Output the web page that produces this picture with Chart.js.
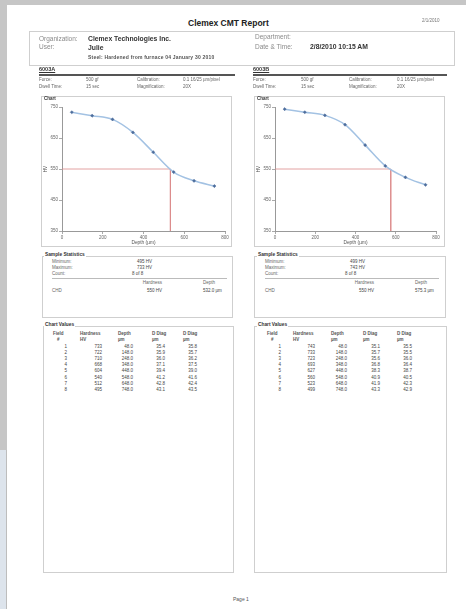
<!DOCTYPE html>
<html>
<head>
<meta charset="utf-8">
<script src="https://cdn.jsdelivr.net/npm/chart.js@4.4.0/dist/chart.umd.min.js"></script>
<style>
  html, body { margin: 0; padding: 0; background: #fff; }
  body { width: 466px; height: 609px; position: relative; overflow: hidden; font-family: "Liberation Sans", Arial, sans-serif; }
  .t { position: absolute; white-space: nowrap; line-height: 1; color: #666; }
  .b { font-weight: bold; color: #333; }
  .box { position: absolute; border: 1px solid #cfcfcf; box-sizing: border-box; }
  .rule { position: absolute; background: #666; }
  .frame { position: absolute; }
  .cv { position: absolute; width: 188px; height: 145px; }
</style>
</head>
<body>
<div class="frame" style="left:0;top:0;width:466px;height:5px;background:#c6c6c6"></div>
<div class="frame" style="left:0;top:0;width:7px;height:450px;background:#c6c6c6"></div>
<div class="frame" style="left:0;top:450px;width:6px;height:159px;background:#dde4ec"></div>
<div class="frame" style="left:6px;top:450px;width:1px;height:159px;background:#bdbdbd"></div>

<div class="box" style="left:29px;top:31px;width:426px;height:35px"></div>
<div class="box" style="left:41px;top:96px;width:191px;height:151px"></div>
<div class="box" style="left:254px;top:96px;width:191px;height:151px"></div>
<div class="box" style="left:42px;top:256px;width:191px;height:62px"></div>
<div class="box" style="left:254px;top:256px;width:192px;height:62px"></div>
<div class="box" style="left:43px;top:326px;width:191px;height:247px"></div>
<div class="box" style="left:254px;top:326px;width:193px;height:247px"></div>

<div class="cv" style="left:43px;top:101px"><canvas id="chartA"></canvas></div>
<div class="cv" style="left:256px;top:101px"><canvas id="chartB"></canvas></div>

<div id="texts"></div>

<script>
const depths = [48, 148, 248, 348, 448, 548, 648, 748];
const hardnessA = [733, 722, 710, 668, 604, 540, 512, 495];
const hardnessB = [743, 733, 723, 693, 627, 560, 523, 499];
const diag1A = [35.4, 35.9, 36.0, 37.1, 39.4, 41.2, 42.8, 43.1];
const diag2A = [35.8, 35.7, 36.2, 37.5, 39.0, 41.6, 42.4, 43.5];
const diag1B = [35.1, 35.7, 35.6, 36.8, 38.3, 40.9, 41.9, 43.3];
const diag2B = [35.5, 35.5, 36.0, 36.4, 38.7, 40.5, 42.3, 42.9];
const chdHardness = 550;
const chdDepthA = 532.0;
const chdDepthB = 575.3;
const xTicks = [0, 200, 400, 600, 800];
const yTicks = [350, 450, 550, 650, 750];

const texts = document.getElementById('texts');

function txt(s, x, yc, size, opts) {
  opts = opts || {};
  const d = document.createElement('div');
  d.className = 't' + (opts.bold ? ' b' : '');
  d.textContent = s;
  d.style.fontSize = size + 'px';
  d.style.top = (yc - size * 0.55) + 'px';
  if (opts.right) {
    d.style.right = (466 - x) + 'px';
  } else {
    d.style.left = x + 'px';
  }
  if (opts.color) d.style.color = opts.color;
  if (opts.bg) { d.style.background = '#fff'; d.style.padding = '0 1px'; }
  if (opts.underline) d.style.textDecoration = 'underline';
  if (opts.ls) d.style.letterSpacing = opts.ls + 'px';
  texts.appendChild(d);
}

function rule(x, y, w, h, c) {
  const d = document.createElement('div');
  d.className = 'rule';
  d.style.left = x + 'px'; d.style.top = y + 'px';
  d.style.width = w + 'px'; d.style.height = h + 'px';
  if (c) d.style.background = c;
  texts.appendChild(d);
}

// header
txt('Clemex CMT Report', 188, 24, 8.5, { bold: true, color: '#222' });
txt('2/1/2010', 422, 21, 4.5, { color: '#777' });
txt('Organization:', 39, 39.5, 6.5, { color: '#8a8a8a' });
txt('Clemex Technologies Inc.', 88, 39.5, 6.8, { bold: true });
txt('User:', 39, 48, 6.5, { color: '#8a8a8a' });
txt('Julie', 88, 48.5, 6.8, { bold: true });
txt('Steel: Hardened from furnace 04  January 30 2010', 88, 58, 5, { bold: true, color: '#555', ls: 0.2 });
txt('Department:', 255, 38, 6.5, { color: '#8a8a8a' });
txt('Date & Time:', 255, 47.5, 6.5, { color: '#8a8a8a' });
txt('2/8/2010 10:15 AM', 310, 47.5, 6.8, { bold: true });

function section(name, x0, ruleW, cols) {
  txt(name, x0, 70.5, 5.5, { bold: true, underline: true });
  rule(x0, 74, ruleW, 1.5, '#555');
  txt('Force:', x0, 80, 4.5); txt('500 gf', cols[0], 80, 4.5);
  txt('Calibration:', cols[1], 80, 4.5); txt('0.1 16/25 µm/pixel', cols[2], 80, 4.5);
  txt('Dwell Time:', x0, 87, 4.5); txt('15 sec', cols[0], 87, 4.5);
  txt('Magnification:', cols[1], 87, 4.5); txt('20X', cols[2], 87, 4.5);
}

function panels(bx, sx, st, tb, hard, d1, d2, chdDepth) {
  txt('Chart', bx + 3, 99.5, 4.5, { bold: true });
  // statistics
  txt('Sample Statistics', bx + 3, 255.5, 4.8, { bold: true, bg: true });
  txt('Minimum:', sx, 262, 4.5); txt(Math.min(...hard) + ' HV', st[0], 262, 4.5, { color: '#444' });
  txt('Maximum:', sx, 268, 4.5); txt(Math.max(...hard) + ' HV', st[0], 268, 4.5, { color: '#444' });
  txt('Count:', sx, 274, 4.5); txt(hard.length + ' of ' + hard.length, st[0] - 5, 274, 4.5, { color: '#444' });
  rule(sx, 278, st[3] - sx, 0.6, '#bbb');
  txt('Hardness', st[1], 283.5, 4.5, { right: true });
  txt('Depth', st[2], 283.5, 4.5);
  txt('CHD', sx, 291, 4.5);
  txt(chdHardness + ' HV', st[1], 291, 4.5, { right: true, color: '#444' });
  txt(chdDepth.toFixed(1) + ' µm', st[2], 291, 4.5, { color: '#444' });
  // chart values table
  txt('Chart Values', bx + 3, 325.5, 4.8, { bold: true, bg: true });
  const heads = [['Field', '#'], ['Hardness', 'HV'], ['Depth', 'µm'], ['D Diag', 'µm'], ['D Diag', 'µm']];
  heads.forEach((h, i) => {
    txt(h[0], tb.h[i], 334, 4.5, { bold: true, color: '#555' });
    txt(h[1], tb.h[i] + (i === 0 ? 4 : 0), 340, 4.5, { bold: true, color: '#555' });
  });
  depths.forEach((dp, r) => {
    const y = 347 + r * 6.2;
    txt(String(r + 1), tb.r[0], y, 4.5, { right: true, color: '#444' });
    txt(String(hard[r]), tb.r[1], y, 4.5, { right: true, color: '#444' });
    txt(dp.toFixed(1), tb.r[2], y, 4.5, { right: true, color: '#444' });
    txt(d1[r].toFixed(1), tb.r[3], y, 4.5, { right: true, color: '#444' });
    txt(d2[r].toFixed(1), tb.r[4], y, 4.5, { right: true, color: '#444' });
  });
}

section('6003A', 39, 196, [86, 137, 183]);
section('6003B', 253, 194, [301, 349, 397]);
panels(41, 52, [137, 162, 203, 227], { h: [53, 80, 118, 152, 183], r: [67, 102, 133, 165, 197] }, hardnessA, diag1A, diag2A, chdDepthA);
panels(254, 265, [350, 374, 415, 439], { h: [267, 293, 331, 363, 397], r: [281, 315, 347, 380, 412] }, hardnessB, diag1B, diag2B, chdDepthB);
txt('Page 1', 233, 600, 5, { color: '#555' });

Chart.defaults.font.family = '"Liberation Sans", Arial, sans-serif';
Chart.defaults.font.size = 4.5;
Chart.defaults.color = '#666';

function makeChart(id, hard, chdDepth, padRight) {
  const ctx = document.getElementById(id).getContext('2d');
  return new Chart(ctx, {
    type: 'line',
    data: {
      datasets: [
        {
          data: depths.map((d, i) => ({ x: d, y: hard[i] })),
          borderColor: '#a3c2e3',
          borderWidth: 1.5,
          cubicInterpolationMode: 'monotone',
          pointStyle: 'rectRot',
          pointRadius: 1.6,
          pointBackgroundColor: '#4d6d9c',
          pointBorderColor: '#4d6d9c',
          pointBorderWidth: 0.5,
        },
        {
          data: [
            { x: xTicks[0], y: chdHardness },
            { x: chdDepth, y: chdHardness },
            { x: chdDepth, y: yTicks[0] },
          ],
          borderColor: '#dc8a8a',
          borderWidth: 0.8,
          pointRadius: 0,
          tension: 0,
        },
      ],
    },
    options: {
      responsive: true,
      maintainAspectRatio: false,
      animation: false,
      layout: { padding: { top: 6, right: padRight, left: 0, bottom: 0 } },
      plugins: { legend: { display: false }, tooltip: { enabled: false } },
      scales: {
        x: {
          type: 'linear',
          min: xTicks[0],
          max: xTicks[xTicks.length - 1],
          afterBuildTicks: (s) => { s.ticks = xTicks.map(v => ({ value: v })); },
          afterFit: (s) => { s.height = 15; },
          ticks: { padding: 1, maxRotation: 0 },
          grid: { drawOnChartArea: false, tickLength: 3, color: '#aaa' },
          border: { color: '#999' },
          title: { display: true, text: 'Depth (µm)', padding: { top: 0, bottom: 0 }, font: { size: 4.8 }, color: '#555' },
        },
        y: {
          min: yTicks[0],
          max: yTicks[yTicks.length - 1],
          afterBuildTicks: (s) => { s.ticks = yTicks.map(v => ({ value: v })); },
          afterFit: (s) => { s.width = 19; },
          ticks: { padding: 1 },
          grid: { drawOnChartArea: false, tickLength: 3, color: '#aaa' },
          border: { color: '#999' },
          title: { display: true, text: 'HV', padding: 0, font: { size: 4.5 }, color: '#555' },
        },
      },
    },
  });
}

makeChart('chartA', hardnessA, chdDepthA, 6);
makeChart('chartB', hardnessB, chdDepthB, 8);
</script>
</body>
</html>
